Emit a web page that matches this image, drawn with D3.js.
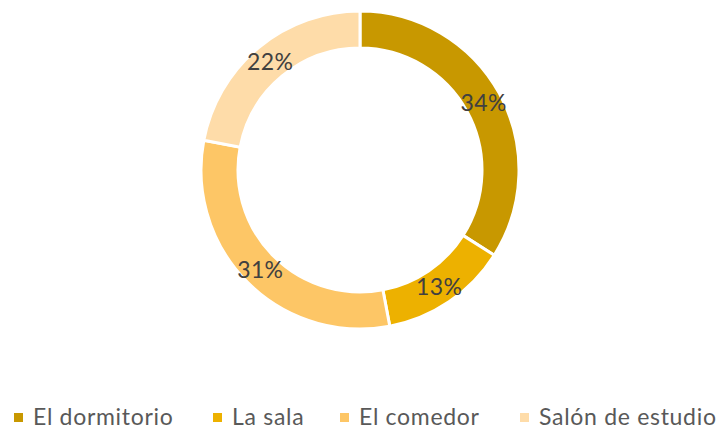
<!DOCTYPE html>
<html>
<head>
<meta charset="utf-8">
<script src="https://cdn.jsdelivr.net/npm/d3@7"></script>
<style>
  html, body { margin: 0; padding: 0; background: #fff; }
  svg { display: block; }
  text { font-family: Lato, "Open Sans", sans-serif; }
</style>
</head>
<body>
<svg id="chart" width="720" height="430"></svg>
<script>
// Share of time spent in each room
const categories = ["El dormitorio", "La sala", "El comedor", "Salón de estudio"];
const values = [34, 13, 31, 22];
const colors = ["#C89800", "#EDB100", "#FDC666", "#FEDCA9"];

const width = 720, height = 430;
const cx = 360, cy = 170;
const outerR = 159, innerR = 122;

const svg = d3.select("#chart");

const data = categories.map((c, i) => ({ name: c, value: values[i] }));

const pie = d3.pie().sort(null).value(d => d.value);
const arc = d3.arc().innerRadius(innerR).outerRadius(outerR);
const labelArc = d3.arc().innerRadius(141).outerRadius(141);

const color = d3.scaleOrdinal().domain(categories).range(colors);

const g = svg.append("g").attr("transform", `translate(${cx},${cy})`);
const arcs = pie(data);

g.selectAll("path")
  .data(arcs)
  .join("path")
  .attr("d", arc)
  .attr("fill", d => color(d.data.name))
  .attr("stroke", "#fff")
  .attr("stroke-width", 3);

const total = d3.sum(values);
g.selectAll("text.pct")
  .data(arcs)
  .join("text")
  .attr("class", "pct")
  .attr("transform", d => `translate(${labelArc.centroid(d)})`)
  .attr("text-anchor", "middle")
  .attr("dy", "0.38em")
  .attr("font-size", 23)
  .attr("letter-spacing", 0.4)
  .attr("fill", "#404040")
  .text(d => Math.round(d.data.value / total * 100) + "%");

// Legend along the bottom
const legendX = [14, 213, 340, 520];
const legend = svg.append("g");
const item = legend.selectAll("g")
  .data(categories)
  .join("g")
  .attr("transform", (d, i) => `translate(${legendX[i]},413)`);
item.append("rect")
  .attr("width", 9).attr("height", 9)
  .attr("fill", d => color(d));
item.append("text")
  .attr("x", 19)
  .attr("y", 12)
  .attr("font-size", 23)
  .attr("letter-spacing", 0.7)
  .attr("fill", "#595959")
  .text(d => d);
</script>
</body>
</html>
